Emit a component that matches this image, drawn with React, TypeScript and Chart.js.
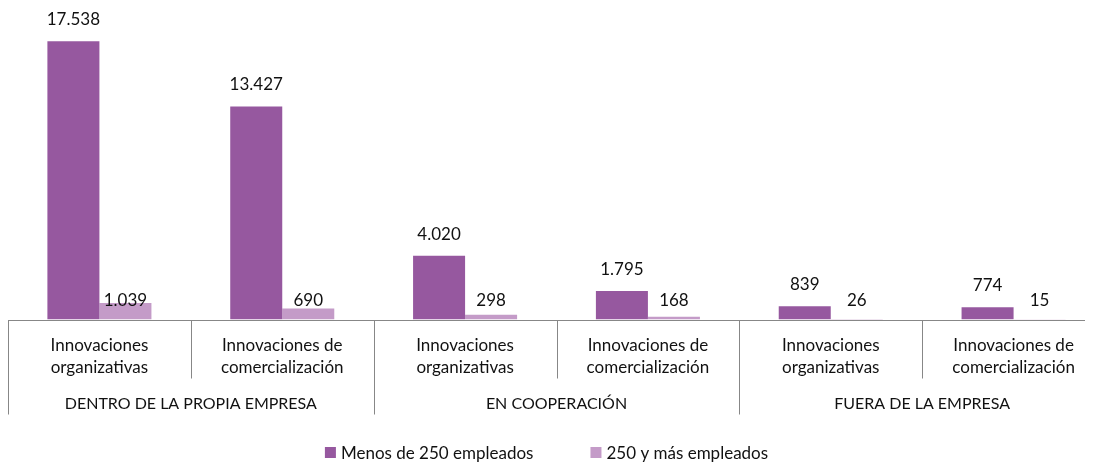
import React, { useEffect, useRef } from "react";
import { Chart, registerables } from "chart.js";

Chart.register(...registerables);

const subLabels: string[][] = [
  ["Innovaciones", "organizativas"],
  ["Innovaciones de", "comercialización"],
  ["Innovaciones", "organizativas"],
  ["Innovaciones de", "comercialización"],
  ["Innovaciones", "organizativas"],
  ["Innovaciones de", "comercialización"],
];
const groupLabels = ["DENTRO DE LA PROPIA EMPRESA", "EN COOPERACIÓN", "FUERA DE LA EMPRESA"];
const smallFirms = [17538, 13427, 4020, 1795, 839, 774];
const largeFirms = [1039, 690, 298, 168, 26, 15];
const seriesNames = ["Menos de 250 empleados", "250 y más empleados"];
const seriesColors = ["#96589F", "#C49BC8"];

const FONT = "Lato, 'Open Sans', sans-serif";
const fmt = (v: number) => String(v).replace(/\B(?=(\d{3})+(?!\d))/g, ".");

const decorPlugin = {
  id: "decor",
  afterDatasetsDraw(chart: any) {
    const ctx = chart.ctx as CanvasRenderingContext2D;
    const area = chart.chartArea;
    const n = subLabels.length;
    const catW = (area.right - area.left) / n;
    const axisY = Math.round(area.bottom) + 0.5;
    ctx.save();
    // data labels
    ctx.fillStyle = "#111";
    ctx.font = `17px ${FONT}`;
    ctx.textAlign = "center";
    ctx.textBaseline = "middle";
    chart.data.datasets.forEach((ds: any, di: number) => {
      const meta = chart.getDatasetMeta(di);
      meta.data.forEach((bar: any, i: number) => {
        const y = di === 0 ? bar.y - 21.5 : area.bottom - 19;
        ctx.fillText(fmt(ds.data[i]), bar.x, y);
      });
    });
    // axis line
    ctx.strokeStyle = "#878787";
    ctx.lineWidth = 1;
    ctx.beginPath();
    ctx.moveTo(area.left, axisY);
    ctx.lineTo(chart.width, axisY);
    ctx.stroke();
    // separators
    for (let i = 0; i <= n; i++) {
      const x = Math.round(area.left + i * catW) + 0.5;
      const long = i % 2 === 0;
      ctx.beginPath();
      ctx.moveTo(x, axisY);
      ctx.lineTo(x, axisY + (long ? 94 : 58));
      ctx.stroke();
    }
    // category labels
    ctx.fillStyle = "#111";
    ctx.font = `17px ${FONT}`;
    subLabels.forEach((lines, i) => {
      const cx = area.left + (i + 0.5) * catW;
      lines.forEach((t, li) => ctx.fillText(t, cx, axisY + 25 + li * 22.5));
    });
    ctx.font = `16px ${FONT}`;
    groupLabels.forEach((t, g) => {
      const cx = area.left + (2 * g + 1) * catW;
      ctx.fillText(t, cx, axisY + 83.5);
    });
    // legend
    ctx.font = `17px ${FONT}`;
    ctx.textAlign = "left";
    const box = 11, gapBox = 5, gapItem = 57;
    const widths = seriesNames.map((s) => ctx.measureText(s).width);
    const total = widths.reduce((a, w) => a + box + gapBox + w, 0) + gapItem * (seriesNames.length - 1);
    let x = 538.5 - total / 2;
    const ly = axisY + 132;
    seriesNames.forEach((s, i) => {
      ctx.fillStyle = seriesColors[i];
      ctx.fillRect(x, ly - box / 2, box, box);
      x += box + gapBox;
      ctx.fillStyle = "#111";
      ctx.fillText(s, x, ly + 1);
      x += widths[i] + gapItem;
    });
    ctx.restore();
  },
};

export default function App() {
  const ref = useRef<HTMLCanvasElement | null>(null);
  useEffect(() => {
    if (!ref.current) return;
    const chart = new Chart(ref.current, {
      type: "bar",
      data: {
        labels: subLabels.map((l) => l.join(" ")),
        datasets: [
          { label: seriesNames[0], data: smallFirms, backgroundColor: seriesColors[0], borderWidth: 0 },
          { label: seriesNames[1], data: largeFirms, backgroundColor: seriesColors[1], borderWidth: 0 },
        ],
      },
      options: {
        animation: false,
        responsive: false,
        devicePixelRatio: 1,
        layout: { padding: { left: 0, right: 3, top: 10, bottom: 142.5 } },
        datasets: { bar: { barPercentage: 1, categoryPercentage: 0.569 } },
        scales: {
          x: { display: false },
          y: { display: false, min: 0, max: 19000 },
        },
        plugins: { legend: { display: false }, tooltip: { enabled: false } },
      },
      plugins: [decorPlugin],
    });
    return () => chart.destroy();
  }, []);
  return (
    <div style={{ width: 1085, height: 454, overflow: "hidden" }}>
      <canvas ref={ref} width={1100} height={454} style={{ width: 1100, height: 454, display: "block" }} />
    </div>
  );
}
